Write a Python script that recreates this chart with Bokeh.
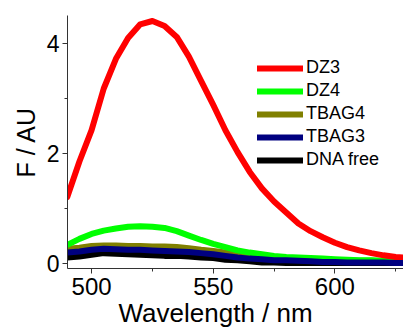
from bokeh.plotting import figure
from bokeh.models import (Range1d, SingleIntervalTicker, Legend, LegendItem, Title)
from bokeh.embed import file_html
from bokeh.resources import INLINE

wavelength = [490, 495, 500, 505, 510, 515, 520, 525, 530, 535, 540, 545, 550, 555,
              560, 565, 570, 575, 580, 585, 590, 595, 600, 605, 610, 615, 620, 625, 628]
dz3 = [1.20, 1.85, 2.42, 3.18, 3.72, 4.10, 4.35, 4.41, 4.32, 4.12, 3.76, 3.32, 2.88, 2.42,
       2.02, 1.66, 1.36, 1.12, 0.92, 0.72, 0.58, 0.47, 0.37, 0.29, 0.23, 0.18, 0.14, 0.11, 0.10]
dz4 = [0.33, 0.44, 0.53, 0.59, 0.63, 0.66, 0.67, 0.66, 0.64, 0.58, 0.50, 0.42, 0.35, 0.29,
       0.23, 0.19, 0.16, 0.13, 0.11, 0.10, 0.09, 0.08, 0.07, 0.06, 0.05, 0.05, 0.04, 0.04, 0.04]
tbag4 = [0.26, 0.28, 0.31, 0.32, 0.32, 0.31, 0.31, 0.30, 0.30, 0.29, 0.27, 0.24, 0.22, 0.19,
         0.17, 0.14, 0.12, 0.10, 0.09, 0.08, 0.07, 0.06, 0.05, 0.05, 0.04, 0.04, 0.03, 0.03, 0.03]
tbag3 = [0.19, 0.21, 0.24, 0.26, 0.25, 0.24, 0.24, 0.23, 0.22, 0.21, 0.20, 0.18, 0.16, 0.13,
         0.10, 0.08, 0.07, 0.05, 0.05, 0.04, 0.03, 0.02, 0.02, 0.01, 0.01, 0.01, 0.01, 0.00, 0.00]
dna_free = [0.10, 0.12, 0.15, 0.18, 0.17, 0.16, 0.15, 0.14, 0.13, 0.13, 0.12, 0.10, 0.09, 0.06,
            0.05, 0.03, 0.01, 0.01, 0.00, 0.00, 0.00, 0.00, 0.00, 0.00, 0.00, 0.00, 0.00, 0.00, 0.00]

series_names = ["DZ3", "DZ4", "TBAG4", "TBAG3", "DNA free"]
series_colors = ["#FF0000", "#00FF00", "#808000", "#000080", "#000000"]
x_label = "Wavelength / nm"
y_label = "F / AU"

FONT = "Liberation Sans"

p = figure(width=403, height=329, output_backend="svg", toolbar_location=None,
           x_range=Range1d(490.1, 628.2), y_range=Range1d(-0.1, 4.51),
           min_border_left=67, min_border_right=0, min_border_top=15, min_border_bottom=61)
p.outline_line_color = None
p.grid.visible = False
p.background_fill_color = "white"
p.border_fill_color = "white"

data = {"DZ3": dz3, "DZ4": dz4, "TBAG4": tbag4, "TBAG3": tbag3, "DNA free": dna_free}
colors = dict(zip(series_names, series_colors))
renderers = {}
for name in ["DNA free", "TBAG4", "DZ4", "DZ3", "TBAG3"]:
    renderers[name] = p.line(wavelength, data[name], line_color=colors[name], line_width=6,
                             line_join="round", line_cap="round")

legend = Legend(items=[LegendItem(label=n, renderers=[renderers[n]]) for n in series_names],
                location=(190, 98), orientation="vertical",
                background_fill_alpha=0, border_line_color=None,
                glyph_width=46, glyph_height=20, label_height=20, label_width=60,
                label_standoff=3, spacing=2, padding=0, margin=0,
                label_text_font=FONT, label_text_font_size="18px", label_text_color="black")
p.add_layout(legend)

p.xaxis.ticker = SingleIntervalTicker(interval=50, num_minor_ticks=2)
p.yaxis.ticker = SingleIntervalTicker(interval=2, num_minor_ticks=2)

for ax in (p.xaxis, p.yaxis):
    ax.axis_line_color = "#333333"
    ax.major_tick_line_color = "#333333"
    ax.minor_tick_line_color = "#333333"
    ax.major_tick_in = 0
    ax.major_tick_out = 5
    ax.minor_tick_in = 0
    ax.minor_tick_out = 3
    ax.major_label_text_font = FONT
    ax.major_label_text_font_size = "23px"
    ax.major_label_text_color = "black"
    ax.axis_label_text_font = FONT
    ax.axis_label_text_font_size = "25px"
    ax.axis_label_text_font_style = "normal"
    ax.axis_label_text_color = "black"

p.xaxis.major_label_text_font_size = "24px"
p.xaxis.major_label_standoff = 4
p.yaxis.major_label_standoff = 3
p.yaxis.axis_label = y_label
p.yaxis.axis_label_standoff = 4

xtitle = Title(text=x_label, align="left", offset=51, standoff=-3,
               text_font=FONT, text_font_size="26px", text_font_style="normal",
               text_color="black")
p.add_layout(xtitle, "below")

open("out.html", "w").write(file_html(p, INLINE))
